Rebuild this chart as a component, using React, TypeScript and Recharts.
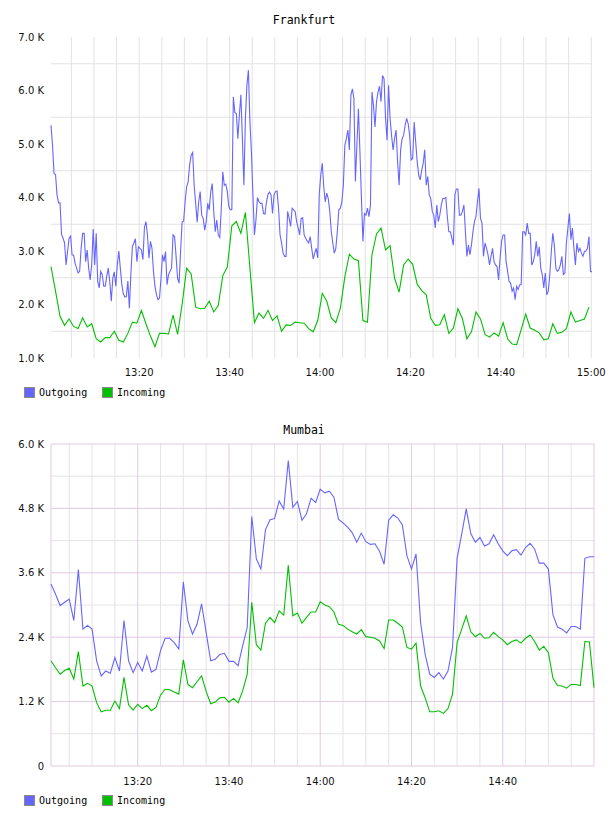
import React from "react";
import { CartesianGrid, Line, LineChart, XAxis, YAxis } from "recharts";

const OUT_COLOR = "#6666ff";
const IN_COLOR = "#00c000";

// x axis is minutes after 13:00
const timeTicks = [20, 40, 60, 80, 100, 120];
const timeLabels = ["13:20", "13:40", "14:00", "14:20", "14:40", "15:00"];

// Frankfurt traffic, values in K. Outgoing every 20 s, incoming every minute.
const frankfurtStart = 0.5;
const frankfurtOutgoing = [
  5.35, 4.98, 4.45, 4.43, 4.05, 3.9, 3.9, 3.31, 3.24, 3.15,
  2.74, 2.99, 3.24, 3.28, 2.93, 2.92, 2.77, 2.68, 2.59, 2.62,
  3.05, 3.33, 3.33, 2.8, 3.02, 2.68, 2.46, 2.74, 3.41, 2.74,
  3.33, 2.43, 2.31, 2.62, 2.56, 2.34, 2.34, 2.53, 2.68, 2.43,
  2.06, 2.49, 2.61, 2.34, 2.74, 3.0, 2.68, 2.37, 2.2, 2.14,
  2.15, 2.44, 1.93, 2.56, 3.08, 3.15, 3.23, 2.8, 3.08, 3.05,
  3.02, 2.84, 3.44, 3.55, 3.3, 2.87, 3.18, 3.05, 2.62, 2.34,
  2.18, 2.09, 2.12, 2.49, 2.93, 2.8, 2.99, 2.37, 2.56, 2.62,
  2.68, 3.3, 3.27, 2.9, 2.49, 2.4, 2.99, 3.54, 3.56, 3.92,
  4.2, 4.29, 4.61, 4.79, 4.84, 4.23, 3.89, 3.54, 3.92, 4.11,
  3.67, 3.61, 3.39, 3.55, 3.89, 3.77, 4.11, 4.26, 3.74, 3.36,
  3.58, 3.3, 3.25, 3.8, 4.48, 4.23, 4.25, 4.11, 3.83, 3.77,
  3.77, 5.88, 5.59, 5.57, 5.1, 5.54, 5.92, 5.1, 4.23, 5.48,
  6.1, 6.38, 5.41, 4.85, 4.05, 3.3, 3.58, 4.0, 3.92, 3.89,
  3.89, 3.7, 3.69, 3.92, 4.06, 4.1, 4.05, 3.7, 4.05, 4.11,
  4.12, 3.8, 3.3, 3.15, 2.96, 2.9, 2.9, 3.74, 3.62, 3.46,
  3.8, 3.77, 3.74, 3.55, 3.43, 3.3, 3.61, 3.62, 3.3, 3.24,
  3.19, 3.15, 3.27, 3.05, 2.85, 2.96, 3.05, 2.87, 4.05,
  4.42, 4.64, 4.2, 3.92, 4.08, 3.98, 3.74, 3.36, 3.15,
  2.96, 3.05, 3.36, 3.77, 3.8, 3.92, 4.23, 4.98, 5.1, 5.26,
  4.89, 5.91, 6.03, 5.85, 4.3, 4.98, 5.66, 4.85, 3.98,
  3.18, 3.7, 3.67, 3.8, 3.64, 3.86, 5.97, 5.72, 5.32, 5.79,
  5.97, 6.08, 5.79, 6.28, 6.22, 5.48, 5.07, 6.1, 5.48, 5.16,
  4.89, 5.1, 5.26, 4.67, 4.23, 4.89, 5.1, 5.16, 5.35, 5.48,
  5.38, 5.16, 4.7, 4.73, 5.41, 5.04, 4.67, 4.42, 4.33, 4.51,
  4.64, 4.89, 4.23, 4.39, 4.05, 3.98, 3.74, 3.67, 3.43, 3.86,
  3.55, 3.67, 3.86, 3.98, 3.98, 4.0, 3.64, 3.36, 3.36, 3.24,
  3.11, 4.05, 4.16, 4.16, 3.67, 3.67, 3.74, 3.86, 3.36, 2.9,
  3.11, 2.93, 3.11, 3.36, 3.55, 3.64, 3.92, 4.17, 3.61, 3.52,
  2.9, 3.15, 3.05, 2.93, 2.74, 2.9, 3.05, 2.8, 2.74, 2.71,
  2.46, 2.87, 3.18, 3.3, 3.3, 2.8, 2.62, 2.43, 2.4, 2.25,
  2.31, 2.09, 2.34, 2.28, 2.37, 2.37, 3.36, 3.36, 3.3, 3.52,
  3.33, 3.33, 2.74, 2.8, 2.93, 3.18, 2.9, 3.08, 2.68, 2.56,
  2.31, 2.59, 2.18, 2.25, 2.56, 2.99, 3.33, 3.11, 2.68, 2.62,
  2.65, 2.74, 2.9, 2.56, 2.59, 3.15, 3.43, 3.7, 3.21, 3.43,
  3.05, 2.74, 3.15, 2.99, 3.05, 2.96, 2.9, 2.99, 3.0, 3.05,
  3.27, 2.62, 2.61,
];
const frankfurtIncoming = [
  2.71, 2.25, 1.78, 1.61, 1.73, 1.59, 1.55, 1.75, 1.58, 1.64,
  1.36, 1.3, 1.38, 1.38, 1.5, 1.33, 1.3, 1.46, 1.67, 1.65,
  1.89, 1.64, 1.41, 1.21, 1.46, 1.46, 1.45, 1.8, 1.44, 2.0,
  2.68, 2.57, 1.95, 1.92, 1.93, 2.06, 1.86, 1.98, 2.54, 2.7,
  3.47, 3.55, 3.33, 3.72, 2.68, 1.66, 1.84, 1.74, 1.89, 1.7,
  1.79, 1.5, 1.62, 1.61, 1.67, 1.66, 1.65, 1.55, 1.49, 1.7,
  2.21, 2.06, 1.75, 1.66, 1.93, 2.52, 2.94, 2.85, 2.82, 1.7,
  1.67, 2.93, 3.32, 3.43, 3.02, 3.1, 2.49, 2.23, 2.74, 2.85,
  2.75, 2.38, 2.26, 2.18, 1.74, 1.61, 1.62, 1.81, 1.46, 1.56,
  1.92, 1.74, 1.36, 1.49, 1.86, 1.73, 1.44, 1.39, 1.47, 1.41,
  1.66, 1.36, 1.26, 1.25, 1.53, 1.82, 1.56, 1.52, 1.47, 1.34,
  1.36, 1.64, 1.46, 1.48, 1.55, 1.86, 1.67, 1.7, 1.73, 1.95,
];
const frankfurtYTicks = [1, 2, 3, 4, 5, 6, 7];

// Mumbai traffic, values in K, one sample per minute from 13:01
const mumbaiStart = 1;
const mumbaiOutgoing = [
  3.39, 3.2, 2.99, 3.05, 3.11, 2.71, 3.66, 2.55, 2.62, 2.55,
  1.96, 1.68, 1.77, 1.73, 2.02, 1.77, 2.71, 1.96, 1.74, 1.93,
  1.77, 2.05, 1.75, 1.8, 2.15, 2.38, 2.38, 2.3, 2.18, 3.43,
  2.71, 2.46, 2.64, 3.02, 2.49, 1.96, 1.99, 2.08, 2.1, 1.95,
  1.95, 1.87, 2.24, 2.58, 4.65, 3.86, 3.67, 4.4, 4.59, 4.61,
  4.94, 4.79, 5.69, 4.82, 4.93, 4.58, 4.7, 4.99, 4.91, 5.16,
  5.09, 5.12, 5.01, 4.6, 4.53, 4.45, 4.35, 4.17, 4.34, 4.18,
  4.13, 4.14, 4.0, 3.76, 4.58, 4.68, 4.62, 4.49, 3.92, 3.67,
  3.95, 2.67, 2.08, 1.71, 1.65, 1.74, 1.62, 1.77, 2.21, 3.87,
  4.32, 4.79, 4.33, 4.17, 4.26, 4.1, 4.14, 4.31, 4.14, 4.01,
  3.92, 4.01, 4.03, 3.93, 4.07, 4.15, 4.04, 3.78, 3.78, 3.67,
  2.82, 2.59, 2.55, 2.48, 2.6, 2.6, 2.55, 3.87, 3.9, 3.9,
];
const mumbaiIncoming = [
  1.96, 1.83, 1.71, 1.78, 1.82, 1.62, 2.13, 1.49, 1.54, 1.49,
  1.18, 1.01, 1.04, 1.04, 1.21, 1.07, 1.65, 1.14, 1.04, 1.15,
  1.07, 1.13, 1.03, 1.09, 1.32, 1.43, 1.42, 1.38, 1.34, 1.98,
  1.52, 1.46, 1.57, 1.68, 1.39, 1.16, 1.19, 1.27, 1.28, 1.19,
  1.26, 1.18, 1.4, 1.71, 3.05, 2.26, 2.16, 2.66, 2.77, 2.67,
  2.89, 2.81, 3.74, 2.8, 2.85, 2.66, 2.77, 2.87, 2.87, 3.06,
  3.0, 2.97, 2.87, 2.64, 2.62, 2.55, 2.5, 2.46, 2.54, 2.41,
  2.4, 2.38, 2.33, 2.19, 2.72, 2.72, 2.66, 2.59, 2.21, 2.18,
  2.29, 1.49, 1.27, 1.01, 1.01, 1.03, 0.98, 1.07, 1.34, 2.3,
  2.55, 2.8, 2.5, 2.41, 2.47, 2.38, 2.39, 2.49, 2.41, 2.35,
  2.26, 2.32, 2.35, 2.29, 2.38, 2.44, 2.32, 2.16, 2.23, 2.11,
  1.64, 1.5, 1.49, 1.45, 1.52, 1.52, 1.5, 2.32, 2.31, 1.46,
];
const mumbaiYTicks = [0, 1.2, 2.4, 3.6, 4.8, 6.0];

// grid values (axis units)
const fiveMinutes = [5, 10, 15, 20, 25, 30, 35, 40, 45, 50, 55, 60, 65, 70, 75, 80, 85, 90, 95, 100, 105, 110, 115, 120];
const frankfurtGridY = [1.5, 2.5, 3.5, 4.5, 5.5, 6.5];
const mumbaiMinorX = [5, 10, 15, 25, 30, 35, 45, 50, 55, 65, 70, 75, 85, 90, 95, 105, 110, 115];
const mumbaiMajorX = [1, 20, 40, 60, 80, 100, 120];
const mumbaiMinorY = [0.6, 1.8, 3.0, 4.2, 5.4];

const series = (values: number[], start: number, step: number) =>
  values.map((v, i) => ({ t: start + i * step, v }));

const timeLabel = (m: number) => timeLabels[timeTicks.indexOf(m)] ?? "";
const kLabel = (v: number) => (v === 0 ? "0" : `${v.toFixed(1)} K`);

const tickFont = { fontFamily: "DejaVu Sans", fontSize: 10, fill: "#111" };
const monoFont = "'DejaVu Sans Mono', monospace";

const Legend: React.FC<{ top: number }> = ({ top }) => {
  const item = (color: string, label: string, left: number) => (
    <div style={{ position: "absolute", left, top: 0, display: "flex", alignItems: "center", height: 12 }}>
      <div
        style={{
          width: 11,
          height: 11,
          boxSizing: "border-box",
          border: "1px solid #8a8a8a",
          background: color,
          marginRight: 4,
        }}
      />
      <span style={{ fontFamily: monoFont, fontSize: 10, color: "#000" }}>{label}</span>
    </div>
  );
  return (
    <div style={{ position: "absolute", left: 0, top, width: 608, height: 12 }}>
      {item(OUT_COLOR, "Outgoing", 24)}
      {item(IN_COLOR, "Incoming", 102)}
    </div>
  );
};

const Title: React.FC<{ top: number; text: string }> = ({ top, text }) => (
  <div
    style={{
      position: "absolute",
      left: 0,
      top,
      width: 608,
      textAlign: "center",
      fontFamily: monoFont,
      fontSize: 11.5,
      lineHeight: "16px",
      color: "#000",
    }}
  >
    {text}
  </div>
);

const App: React.FC = () => {
  const fOut = series(frankfurtOutgoing, frankfurtStart, 1 / 3);
  const fIn = series(frankfurtIncoming, frankfurtStart, 1);
  const mOut = series(mumbaiOutgoing, mumbaiStart, 1);
  const mIn = series(mumbaiIncoming, mumbaiStart, 1);

  return (
    <div style={{ position: "absolute", left: 0, top: 0, width: 608, height: 816, background: "#fff" }}>
      <Title top={12} text="Frankfurt" />
      <div style={{ position: "absolute", left: 0, top: 0 }}>
        <LineChart width={608} height={385} margin={{ top: 37, right: 16, bottom: 5, left: 0 }}>
          <CartesianGrid
            stroke="#e2e2e2"
            verticalValues={fiveMinutes}
            horizontalValues={frankfurtGridY}
          />
          <XAxis
            dataKey="t"
            type="number"
            domain={["dataMin", "dataMax"]}
            ticks={timeTicks}
            tickFormatter={timeLabel}
            axisLine={false}
            tickLine={false}
            tickSize={0}
            tickMargin={11}
            height={22}
            tick={tickFont}
            interval={0}
          />
          <YAxis
            type="number"
            domain={[1, 7]}
            ticks={frankfurtYTicks}
            tickFormatter={kLabel}
            axisLine={false}
            tickLine={false}
            tickSize={0}
            tickMargin={7}
            width={51}
            tick={tickFont}
            interval={0}
          />
          <Line data={fOut} dataKey="v" type="linear" stroke={OUT_COLOR} strokeWidth={1.1} dot={false} isAnimationActive={false} />
          <Line data={fIn} dataKey="v" type="linear" stroke={IN_COLOR} strokeWidth={1.1} dot={false} isAnimationActive={false} />
        </LineChart>
      </div>
      <Legend top={386} />

      <Title top={422} text="Mumbai" />
      <div style={{ position: "absolute", left: 0, top: 400 }}>
        <LineChart width={608} height={392} margin={{ top: 44, right: 14, bottom: 2, left: 0 }}>
          <CartesianGrid stroke="#e6e3e6" verticalValues={mumbaiMinorX} horizontalValues={mumbaiMinorY} />
          <CartesianGrid stroke="#e2c9e2" verticalValues={mumbaiMajorX} horizontalValues={mumbaiYTicks} />
          <XAxis
            dataKey="t"
            type="number"
            domain={["dataMin", "dataMax"]}
            ticks={timeTicks.slice(0, 5)}
            tickFormatter={timeLabel}
            axisLine={false}
            tickLine={false}
            tickSize={0}
            tickMargin={12}
            height={24}
            tick={tickFont}
            interval={0}
          />
          <YAxis
            type="number"
            domain={[0, 6]}
            ticks={mumbaiYTicks}
            tickFormatter={kLabel}
            axisLine={false}
            tickLine={false}
            tickSize={0}
            tickMargin={7}
            width={51}
            tick={tickFont}
            interval={0}
          />
          <Line data={mOut} dataKey="v" type="linear" stroke={OUT_COLOR} strokeWidth={1.1} dot={false} isAnimationActive={false} />
          <Line data={mIn} dataKey="v" type="linear" stroke={IN_COLOR} strokeWidth={1.1} dot={false} isAnimationActive={false} />
        </LineChart>
      </div>
      <Legend top={794} />
    </div>
  );
};

export default App;
